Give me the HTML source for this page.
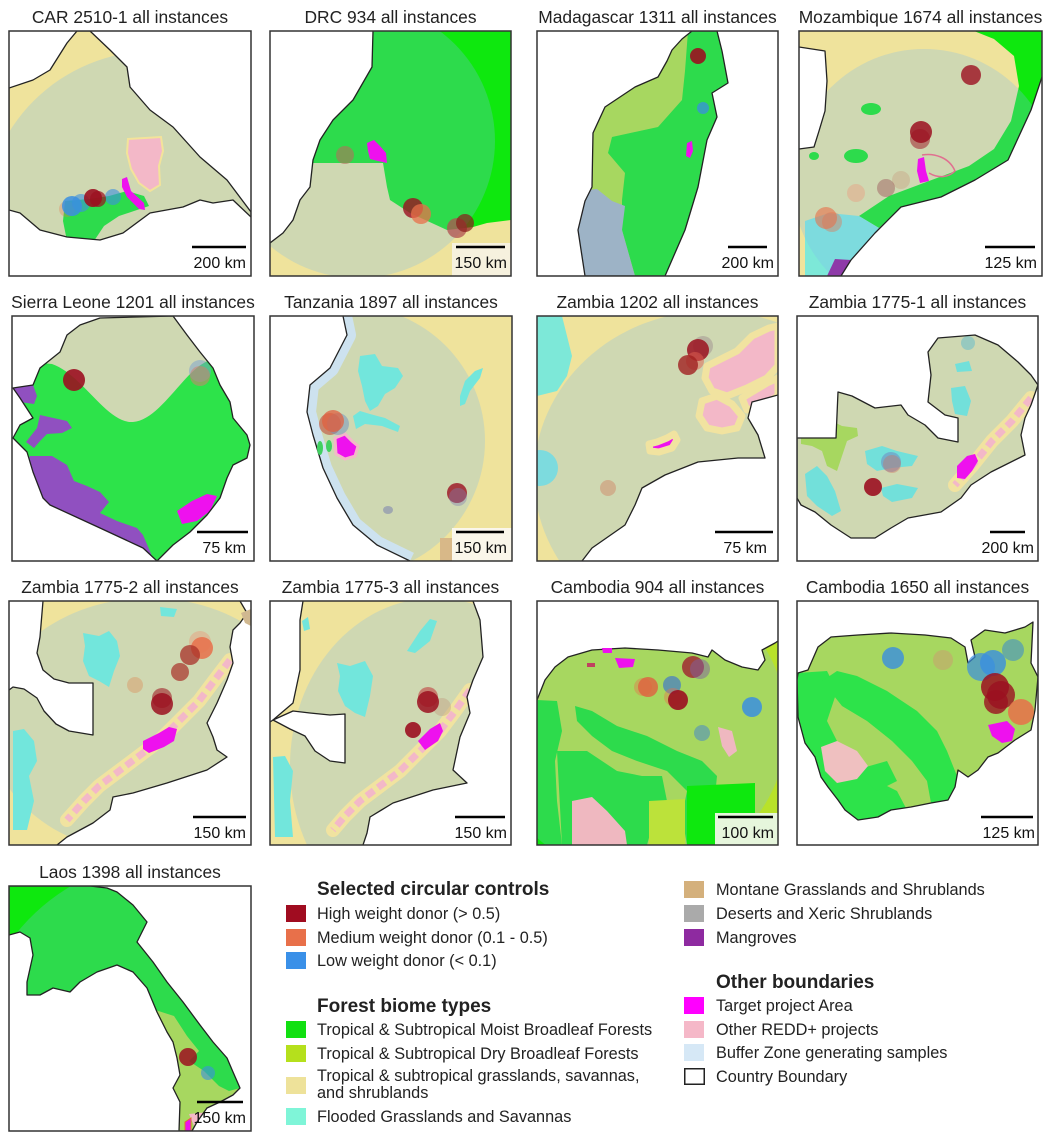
<!DOCTYPE html>
<html><head><meta charset="utf-8">
<style>
html,body{margin:0;padding:0;background:#fff;width:1055px;height:1140px;overflow:hidden}
svg{display:block}
text{font-family:"Liberation Sans",Arial,sans-serif;fill:#222}
.t{font-size:17.4px;text-anchor:middle}
.s{font-size:16px;text-anchor:end;fill:#111}
.ov{fill:#7dbcec;fill-opacity:.28}
.bd{fill:none;stroke:#222;stroke-width:1.3;stroke-linejoin:round}
.box{fill:none;stroke:#333;stroke-width:1.5}
.sb{stroke:#000;stroke-width:2.5}
.lg{font-size:16.3px}
.lh{font-size:19px;font-weight:bold}
.ys{fill:none;stroke:#f1e3a0;stroke-width:14;stroke-linecap:round;stroke-linejoin:round}
.ps{fill:none;stroke:#f3b8c8;stroke-width:7;stroke-dasharray:9 5;stroke-linejoin:round}
</style></head><body>
<svg width="1055" height="1140" viewBox="0 0 1055 1140">
<defs>
<clipPath id="c1"><rect width="242" height="245"/></clipPath>
<clipPath id="c2"><rect width="241" height="245"/></clipPath>
<clipPath id="c3"><rect width="241" height="245"/></clipPath>
<clipPath id="c4"><rect width="243" height="245"/></clipPath>
<clipPath id="c5"><rect width="242" height="245"/></clipPath>
<clipPath id="c6"><rect width="242" height="245"/></clipPath>
<clipPath id="c7"><rect width="241" height="245"/></clipPath>
<clipPath id="c8"><rect width="241" height="245"/></clipPath>
<clipPath id="c9"><rect width="242" height="244"/></clipPath>
<clipPath id="c10"><rect width="241" height="244"/></clipPath>
<clipPath id="c11"><rect width="241" height="244"/></clipPath>
<clipPath id="c12"><rect width="241" height="244"/></clipPath>
<clipPath id="c13"><rect width="242" height="245"/></clipPath>
</defs>

<!-- Titles -->
<text class="t" x="130" y="23">CAR 2510-1 all instances</text>
<text class="t" x="390.5" y="23">DRC 934 all instances</text>
<text class="t" x="657.5" y="23">Madagascar 1311 all instances</text>
<text class="t" x="920.5" y="23">Mozambique 1674 all instances</text>
<text class="t" x="133" y="308">Sierra Leone 1201 all instances</text>
<text class="t" x="391" y="308">Tanzania 1897 all instances</text>
<text class="t" x="657.5" y="308">Zambia 1202 all instances</text>
<text class="t" x="917.5" y="308">Zambia 1775-1 all instances</text>
<text class="t" x="130" y="593">Zambia 1775-2 all instances</text>
<text class="t" x="390.5" y="593">Zambia 1775-3 all instances</text>
<text class="t" x="657.5" y="593">Cambodia 904 all instances</text>
<text class="t" x="917.5" y="593">Cambodia 1650 all instances</text>
<text class="t" x="130" y="878">Laos 1398 all instances</text>

<!-- P1 CAR -->
<g transform="translate(9,31)">
<g clip-path="url(#c1)">
<clipPath id="k1"><polygon points="0,57 24,49 41,39 58,12 68,0 81,0 101,19 118,36 121,56 141,79 164,96 191,126 218,149 242,181 242,186 224,169 204,172 191,169 174,176 141,182 114,202 91,209 58,206 31,199 11,182 0,179"/></clipPath>
<g clip-path="url(#k1)">
<rect width="242" height="245" fill="#efe39c"/>
<polygon fill="#0ee80e" points="56,170 80,168 100,165 118,160 135,165 140,175 125,180 110,185 95,195 85,210 58,210 54,190"/>
<circle class="ov" cx="145" cy="190" r="170"/>
</g>
<polygon class="bd" points="0,57 24,49 41,39 58,12 68,0 81,0 101,19 118,36 121,56 141,79 164,96 191,126 218,149 242,181 242,186 224,169 204,172 191,169 174,176 141,182 114,202 91,209 58,206 31,199 11,182 0,179"/>
<polygon fill="#f3b8c8" stroke="#f3e39a" stroke-width="2" points="119,108 152,106 154,120 150,135 151,154 141,160 130,152 122,138 118,122"/>
<polygon fill="#ee11ee" points="113,148 118,146 122,160 135,172 136,179 130,178 118,166 113,156"/>
<circle cx="58" cy="178" r="8" fill="#e8704a" fill-opacity=".3"/>
<circle cx="63" cy="175" r="10" fill="#3a8fe0" fill-opacity=".85"/>
<circle cx="72" cy="172" r="9" fill="#3a8fe0" fill-opacity=".6"/>
<circle cx="104" cy="166" r="8" fill="#3a8fe0" fill-opacity=".6"/>
<circle cx="84" cy="167" r="9" fill="#9b1020" fill-opacity=".9"/>
<circle cx="89" cy="168" r="8" fill="#9b1020" fill-opacity=".7"/>
<line class="sb" x1="183" y1="216" x2="237" y2="216"/>
<text class="s" x="237" y="237">200 km</text>
</g>
<rect class="box" width="242" height="245"/>
</g>

<!-- P2 DRC -->
<g transform="translate(270,31)">
<g clip-path="url(#c2)">
<clipPath id="k2"><polygon points="103,0 241,0 241,245 0,245 0,212 13,202 23,189 30,169 40,156 43,129 50,109 63,89 83,69 102,36"/></clipPath>
<g clip-path="url(#k2)">
<rect width="241" height="245" fill="#0ee80e"/>
<polygon fill="#efe39c" points="43,132 113,132 117,156 120,169 140,182 177,199 203,196 217,192 241,189 241,245 0,245 0,212 13,202 23,189 30,169 40,156"/>
<circle class="ov" cx="88" cy="110" r="137"/>
</g>
<polyline class="bd" points="103,0 102,36 83,69 63,89 50,109 43,129 40,156 30,169 23,189 13,202 0,212"/>
<polygon fill="#ee11ee" points="97,112 104,109 110,115 116,122 117,132 108,130 100,128 98,120"/>
<circle cx="75" cy="124" r="9" fill="#b0705a" fill-opacity=".6"/>
<circle cx="143" cy="177" r="10" fill="#9b1020" fill-opacity=".8"/>
<circle cx="151" cy="183" r="10" fill="#e8704a" fill-opacity=".75"/>
<circle cx="187" cy="197" r="10" fill="#b05050" fill-opacity=".75"/>
<circle cx="195" cy="192" r="9" fill="#8b1a1a" fill-opacity=".7"/>
<rect x="182" y="212" width="59" height="33" fill="#f6f1de"/>
<line class="sb" x1="186" y1="216" x2="235" y2="216"/>
<text class="s" x="237" y="237">150 km</text>
</g>
<rect class="box" width="241" height="245"/>
</g>

<!-- P3 Madagascar -->
<g transform="translate(537,31)">
<g clip-path="url(#c3)">
<clipPath id="k3"><polygon points="155,0 180,0 185,20 191,52 175,62 180,86 170,109 161,156 148,199 128,245 48,245 41,199 48,170 55,156 56,102 68,76 98,56 121,46 130,30 135,19 145,8"/></clipPath>
<g clip-path="url(#k3)">
<rect width="241" height="245" fill="#b8e22a"/>
<polygon fill="#0ee80e" points="151,0 185,0 191,52 175,62 180,86 170,109 161,156 148,199 128,245 98,245 85,199 85,169 88,142 71,122 75,106 121,96 145,69 148,40"/>
<polygon fill="#aab0b8" points="41,160 60,158 75,170 88,175 85,199 98,245 41,245"/>
<rect width="241" height="245" class="ov"/>
<polygon fill="#9050c0" points="40,175 46,170 46,182 40,186"/>
</g>
<polygon class="bd" points="155,0 180,0 185,20 191,52 175,62 180,86 170,109 161,156 148,199 128,245 48,245 41,199 48,170 55,156 56,102 68,76 98,56 121,46 130,30 135,19 145,8"/>
<polygon fill="#ee11ee" points="150,112 155,110 156,120 153,127 149,125"/>
<circle cx="161" cy="25" r="8" fill="#9b1020" fill-opacity=".9"/>
<circle cx="166" cy="77" r="6" fill="#3a8fe0" fill-opacity=".75"/>
<line class="sb" x1="191" y1="216" x2="230" y2="216"/>
<text class="s" x="237" y="237">200 km</text>
</g>
<rect class="box" width="241" height="245"/>
</g>

<!-- P4 Mozambique -->
<g transform="translate(799,31)">
<g clip-path="url(#c4)">
<rect width="243" height="245" fill="#efe39c"/>
<polygon fill="#0ee80e" points="175,0 243,0 243,46 232,79 209,129 176,149 142,166 102,176 80,197 60,185 90,165 130,150 170,135 195,118 212,90 220,55 215,25 195,8"/>
<polygon fill="#7de8d8" points="6,190 30,182 60,185 80,197 76,202 52,229 42,245 6,245"/>
<ellipse fill="#0ee80e" cx="72" cy="78" rx="10" ry="6"/>
<ellipse fill="#0ee80e" cx="57" cy="125" rx="12" ry="7"/>
<ellipse fill="#0ee80e" cx="15" cy="125" rx="5" ry="4"/>
<circle class="ov" cx="125" cy="150" r="132"/>
<polygon fill="#8e3aa8" points="36,228 52,229 42,245 28,245"/>
<polygon fill="#fff" points="243,46 232,79 209,129 176,149 142,166 102,176 76,202 52,229 42,245 243,245"/>
<polygon fill="#fff" points="0,16 26,20 28,50 26,80 20,100 15,116 0,118"/>
<polyline class="bd" points="243,46 232,79 209,129 176,149 142,166 102,176 76,202 52,229 42,245"/>
<polyline class="bd" points="0,16 26,20 28,50 26,80 20,100 15,116 0,118"/>
<path d="M123,124 C135,122 150,126 156,140 C150,146 140,148 130,142" fill="none" stroke="#e07090" stroke-width="1.5"/>
<polygon fill="#ee11ee" points="119,128 125,126 127,140 130,150 121,152 118,140"/>
<circle cx="172" cy="44" r="10" fill="#9b1020" fill-opacity=".8"/>
<circle cx="122" cy="101" r="11" fill="#9b1020" fill-opacity=".85"/>
<circle cx="121" cy="108" r="10" fill="#9b1020" fill-opacity=".5"/>
<circle cx="102" cy="149" r="9" fill="#c8a080" fill-opacity=".4"/>
<circle cx="87" cy="157" r="9" fill="#a06060" fill-opacity=".5"/>
<circle cx="57" cy="162" r="9" fill="#e8a080" fill-opacity=".45"/>
<circle cx="27" cy="187" r="11" fill="#e8704a" fill-opacity=".6"/>
<circle cx="33" cy="191" r="10" fill="#e8704a" fill-opacity=".4"/>
<line class="sb" x1="186" y1="216" x2="236" y2="216"/>
<text class="s" x="238" y="237">125 km</text>
</g>
<rect class="box" width="243" height="245"/>
</g>

<!-- P5 Sierra Leone -->
<g transform="translate(12,316)">
<g clip-path="url(#c5)">
<clipPath id="k5"><polygon points="68,9 88,2 161,0 175,19 188,36 201,52 208,69 218,86 221,102 235,119 238,129 235,142 221,149 215,162 208,182 195,199 178,216 161,229 145,245 131,232 88,212 38,189 31,182 21,156 15,136 1,122 8,109 21,102 8,82 1,72 21,69 28,52 48,36 55,19"/></clipPath>
<g clip-path="url(#k5)">
<rect width="242" height="245" fill="#2de34a"/>
<path fill="#cfd8b2" d="M0,0 L242,0 L242,42 L200,44 C175,48 150,104 121,106 C95,108 70,58 40,48 L0,44 Z"/>
<polygon fill="#9050c0" points="0,70 21,69 25,80 22,88 8,86 0,84"/>
<polygon fill="#9050c0" points="28,99 55,105 60,112 50,117 35,118 28,125 22,132 14,126 25,112"/>
<polygon fill="#9050c0" points="18,140 40,140 55,149 62,165 75,170 88,176 97,186 88,197 105,205 125,212 131,219 140,240 131,245 88,215 38,192 20,185 10,160"/>
<polygon fill="#9050c0" points="28,183 65,188 75,200 60,198 40,192"/>
<polygon fill="#ee11ee" points="165,195 180,185 195,178 205,180 198,195 185,205 170,208"/>
</g>
<polygon class="bd" points="68,9 88,2 161,0 175,19 188,36 201,52 208,69 218,86 221,102 235,119 238,129 235,142 221,149 215,162 208,182 195,199 178,216 161,229 145,245 131,232 88,212 38,189 31,182 21,156 15,136 1,122 8,109 21,102 8,82 1,72 21,69 28,52 48,36 55,19"/>
<circle cx="62" cy="64" r="11" fill="#9b1020" fill-opacity=".9"/>
<circle cx="188" cy="55" r="11" fill="#7aa0d0" fill-opacity=".5"/>
<circle cx="188" cy="60" r="10" fill="#d08070" fill-opacity=".55"/>
<line class="sb" x1="185" y1="216" x2="236" y2="216"/>
<text class="s" x="234" y="237">75 km</text>
</g>
<rect class="box" width="242" height="245"/>
</g>

<!-- P6 Tanzania -->
<g transform="translate(270,316)">
<g clip-path="url(#c6)">
<rect width="242" height="245" fill="#efe39c"/>
<circle class="ov" cx="80" cy="125" r="135"/>
<rect x="170" y="222" width="12" height="23" fill="#d8b888"/>
<polyline fill="none" stroke="#cde2ef" stroke-width="18" stroke-linejoin="round" points="73,0 77,19 60,52 40,69 37,96 43,119 53,152 67,182 83,209 107,229 140,245"/>
<polygon fill="#fff" points="0,0 73,0 77,19 60,52 40,69 37,96 43,119 53,152 67,182 83,209 107,229 140,245 0,245"/>
<polyline class="bd" points="73,0 77,19 60,52 40,69 37,96 43,119 53,152 67,182 83,209 107,229 140,245"/>
<polygon fill="#72e6dc" points="90,40 105,38 112,50 128,52 133,60 125,72 115,78 108,90 100,95 95,85 92,70 88,55"/>
<polygon fill="#72e6dc" points="83,100 90,95 100,98 115,102 130,110 128,116 112,110 95,108 86,113"/>
<polygon fill="#72e6dc" points="190,80 195,65 205,55 213,52 210,62 200,75 195,88 190,90"/>
<ellipse cx="50" cy="132" rx="3" ry="7" fill="#40d060"/>
<ellipse cx="59" cy="130" rx="3" ry="6" fill="#40d060"/>
<polygon fill="#ee11ee" stroke="#f3b8c8" stroke-width="3" points="65,122 75,118 82,125 88,130 85,140 75,143 66,138"/>
<ellipse cx="118" cy="194" rx="5" ry="4" fill="#a0a8b0"/>
<circle cx="60" cy="108" r="11" fill="#c04030" fill-opacity=".55"/>
<circle cx="68" cy="108" r="11" fill="#7090c0" fill-opacity=".5"/>
<circle cx="63" cy="105" r="11" fill="#e06040" fill-opacity=".75"/>
<circle cx="187" cy="177" r="10" fill="#9b1020" fill-opacity=".8"/>
<circle cx="188" cy="181" r="9" fill="#8080b0" fill-opacity=".4"/>
<rect x="182" y="212" width="60" height="33" fill="#faf6ea"/>
<line class="sb" x1="186" y1="216" x2="234" y2="216"/>
<text class="s" x="237" y="237">150 km</text>
</g>
<rect class="box" width="242" height="245"/>
</g>

<!-- P7 Zambia 1202 -->
<g transform="translate(537,316)">
<g clip-path="url(#c7)">
<rect width="241" height="245" fill="#efe39c"/>
<polygon fill="#7de8d8" points="0,0 25,0 30,20 35,40 30,60 20,75 0,80"/>
<ellipse cx="3" cy="152" rx="18" ry="18" fill="#7de8d8"/>
<ellipse class="ov" cx="175" cy="160" rx="178" ry="165"/>
<polygon fill="#f3b8c8" stroke="#f1e3a0" stroke-width="7" stroke-linejoin="round" points="170,50 200,35 215,20 232,12 241,10 241,50 230,62 210,72 190,80 175,75 168,62"/>
<polygon fill="#f3b8c8" stroke="#f1e3a0" stroke-width="7" stroke-linejoin="round" points="165,85 180,80 195,88 205,100 200,112 185,115 170,112 162,100"/>
<polygon fill="#f3b8c8" stroke="#f1e3a0" stroke-width="7" stroke-linejoin="round" points="205,82 230,67 241,62 241,80 225,90 210,94"/>
<polygon fill="#ee11ee" stroke="#f1e3a0" stroke-width="7" stroke-linejoin="round" points="112,128 120,126 130,122 137,118 140,124 135,132 122,136 113,135"/>
<polygon fill="#fff" points="241,79 215,86 211,102 221,119 228,142 201,142 161,146 128,159 105,172 98,189 88,209 55,232 45,245 241,245"/>
<polyline class="bd" points="241,79 215,86 211,102 221,119 228,142 201,142 161,146 128,159 105,172 98,189 88,209 55,232 45,245"/>
<circle cx="166" cy="30" r="10" fill="#a09090" fill-opacity=".5"/>
<circle cx="161" cy="34" r="11" fill="#9b1020" fill-opacity=".85"/>
<circle cx="158" cy="45" r="9" fill="#e06050" fill-opacity=".5"/>
<circle cx="151" cy="49" r="10" fill="#a02020" fill-opacity=".8"/>
<circle cx="71" cy="172" r="8" fill="#d09070" fill-opacity=".55"/>
<line class="sb" x1="178" y1="216" x2="236" y2="216"/>
<text class="s" x="230" y="237">75 km</text>
</g>
<rect class="box" width="241" height="245"/>
</g>

<!-- P8 Zambia 1775-1 -->
<g transform="translate(797,316)">
<g clip-path="url(#c8)">
<clipPath id="k8"><polygon points="0,122 39,122 41,76 55,80 78,92 104,89 111,99 128,109 141,122 161,126 161,102 148,99 131,86 134,59 131,36 141,22 178,19 201,29 221,46 234,59 241,69 234,89 228,102 224,119 228,139 194,156 174,169 164,182 144,196 111,202 94,212 78,222 54,222 34,209 18,196 4,189 0,182"/></clipPath>
<g clip-path="url(#k8)">
<rect width="241" height="245" fill="#cfd8b2"/>
<polygon fill="#a7d760" points="4,112 20,108 35,105 45,110 60,112 61,120 50,125 45,140 40,155 30,150 25,135 15,130 4,128"/>
<polygon fill="#72e0da" points="8,158 20,150 30,160 38,175 44,195 35,200 20,190 10,180"/>
<polygon fill="#72e0da" points="68,135 85,130 100,135 121,140 115,150 95,152 80,155 70,148"/>
<polygon fill="#72e0da" points="84,172 100,168 121,172 115,182 95,186 86,180"/>
<polygon fill="#72e0da" points="154,72 168,70 174,85 170,100 158,98 155,85"/>
<polygon fill="#72e0da" points="158,48 172,45 175,55 160,56"/>
<circle cx="171" cy="27" r="7" fill="#72c0c8" fill-opacity=".6"/>
<polyline class="ys" stroke-width="10" points="234,82 215,105 195,125 175,150 158,169"/>
<polyline class="ps" stroke-width="5" points="234,82 215,105 195,125 175,150 158,169"/>
<polygon fill="#ee11ee" points="160,150 170,140 178,138 181,145 175,155 168,163 160,162"/>
</g>
<polygon class="bd" points="0,122 39,122 41,76 55,80 78,92 104,89 111,99 128,109 141,122 161,126 161,102 148,99 131,86 134,59 131,36 141,22 178,19 201,29 221,46 234,59 241,69 234,89 228,102 224,119 228,139 194,156 174,169 164,182 144,196 111,202 94,212 78,222 54,222 34,209 18,196 4,189 0,182"/>
<circle cx="76" cy="171" r="9" fill="#9b1020" fill-opacity=".9"/>
<circle cx="94" cy="146" r="10" fill="#7080c0" fill-opacity=".5"/>
<circle cx="95" cy="148" r="9" fill="#d07060" fill-opacity=".4"/>
<line class="sb" x1="193" y1="216" x2="228" y2="216"/>
<text class="s" x="237" y="237">200 km</text>
</g>
<rect class="box" width="241" height="245"/>
</g>

<!-- P9 Zambia 1775-2 -->
<g transform="translate(9,601)">
<g clip-path="url(#c9)">
<rect width="242" height="244" fill="#efe39c"/>
<ellipse class="ov" cx="140" cy="125" rx="160" ry="128"/>
<polygon fill="#72e6dc" points="74,32 90,35 100,30 108,40 111,55 105,70 100,86 90,80 80,75 74,60 76,45"/>
<polygon fill="#72e6dc" points="151,6 168,8 165,16 152,15"/>
<polygon fill="#72e6dc" points="4,130 15,128 25,140 28,160 20,175 25,200 18,229 4,229"/>
<polyline class="ys" points="221,59 205,80 190,100 170,120 150,140 130,155 110,170 90,185 75,200 58,219"/>
<polyline class="ps" points="221,59 205,80 190,100 170,120 150,140 130,155 110,170 90,185 75,200 58,219"/>
<polygon fill="#ee11ee" points="134,140 150,132 160,126 168,128 165,140 155,146 140,152 134,148"/>
<polygon fill="#fff" points="0,0 34,0 31,36 28,52 34,69 45,78 60,82 74,82 84,82 84,134 60,130 47,123 35,110 28,97 15,88 4,86 0,89"/>
<polyline class="bd" points="34,0 31,36 28,52 34,69 45,78 60,82 74,82 84,82 84,134 60,130 47,123 35,110 28,97 15,88 4,86 0,89"/>
<polygon fill="#fff" points="231,0 242,0 242,244 48,244 58,236 84,222 101,209 104,196 124,192 158,182 198,169 218,156 208,149 204,136 198,122 208,102 218,79 224,62 221,46 224,29 231,22 238,12"/>
<polyline class="bd" points="231,0 238,12 231,22 224,29 221,46 224,62 218,79 208,102 198,122 204,136 208,149 218,156 198,169 158,182 124,192 104,196 101,209 84,222 58,236 48,244"/>
<polygon fill="#d0b890" points="232,12 242,8 242,25 236,22"/>
<circle cx="191" cy="41" r="11" fill="#e8a080" fill-opacity=".5"/>
<circle cx="193" cy="47" r="11" fill="#e8704a" fill-opacity=".85"/>
<circle cx="181" cy="54" r="10" fill="#a83028" fill-opacity=".75"/>
<circle cx="171" cy="71" r="9" fill="#a83028" fill-opacity=".7"/>
<circle cx="126" cy="84" r="8" fill="#d8a070" fill-opacity=".55"/>
<circle cx="153" cy="97" r="10" fill="#a02028" fill-opacity=".6"/>
<circle cx="153" cy="103" r="11" fill="#9b1020" fill-opacity=".85"/>
<line class="sb" x1="184" y1="216" x2="237" y2="216"/>
<text class="s" x="237" y="237">150 km</text>
</g>
<rect class="box" width="242" height="244"/>
</g>

<!-- P10 Zambia 1775-3 -->
<g transform="translate(270,601)">
<g clip-path="url(#c10)">
<rect width="241" height="244" fill="#efe39c"/>
<ellipse class="ov" cx="165" cy="165" rx="145" ry="168"/>
<polygon fill="#72e6dc" points="67,62 80,65 95,60 103,75 100,95 95,116 85,112 75,105 68,90 70,75"/>
<polygon fill="#72e6dc" points="137,50 150,30 160,18 167,20 160,40 145,52"/>
<polygon fill="#72e6dc" points="3,156 15,155 23,170 20,200 23,236 5,236"/>
<polygon fill="#72e6dc" points="32,20 38,16 40,28 34,30"/>
<polyline class="ys" points="200,89 185,110 170,130 150,150 130,170 110,185 90,200 75,215 63,229"/>
<polyline class="ps" points="200,89 185,110 170,130 150,150 130,170 110,185 90,200 75,215 63,229"/>
<polygon fill="#ee11ee" points="148,140 160,128 170,122 173,130 168,140 155,149"/>
<polygon fill="#fff" points="0,0 33,0 30,19 30,69 23,102 3,119 0,121"/>
<polyline class="bd" points="33,0 30,19 30,69 23,102 3,119 0,121"/>
<polygon fill="#fff" points="3,119 23,110 40,112 60,114 75,113 75,162 60,160 45,150 35,135 20,128"/>
<polygon class="bd" points="3,119 23,110 40,112 60,114 75,113 75,162 60,160 45,150 35,135 20,128"/>
<polygon fill="#fff" points="203,0 241,0 241,244 93,244 97,232 100,216 123,202 163,189 197,182 183,169 190,136 200,112 197,96 203,79 213,56 210,19"/>
<polyline class="bd" points="203,0 210,19 213,56 203,79 197,96 200,112 190,136 183,169 197,182 163,189 123,202 100,216 97,232 93,244"/>
<circle cx="172" cy="106" r="9" fill="#c0a080" fill-opacity=".45"/>
<circle cx="158" cy="96" r="10" fill="#c04040" fill-opacity=".6"/>
<circle cx="158" cy="101" r="11" fill="#9b1020" fill-opacity=".85"/>
<circle cx="143" cy="129" r="8" fill="#9b1020" fill-opacity=".9"/>
<line class="sb" x1="185" y1="216" x2="235" y2="216"/>
<text class="s" x="237" y="237">150 km</text>
</g>
<rect class="box" width="241" height="244"/>
</g>

<!-- P11 Cambodia 904 -->
<g transform="translate(537,601)">
<g clip-path="url(#c11)">
<rect width="241" height="244" fill="#b8e22a"/>
<polygon fill="#0ee80e" points="0,99 20,100 25,130 18,160 20,200 25,244 0,244"/>
<polygon fill="#0ee80e" points="38,105 55,110 80,125 110,135 140,150 165,160 180,175 178,195 170,215 168,244 150,244 145,215 150,190 130,170 100,160 75,150 55,135 40,120"/>
<polygon fill="#0ee80e" points="20,150 50,150 80,170 105,175 125,175 130,200 118,215 110,244 25,244"/>
<circle class="ov" cx="100" cy="125" r="150"/>
<polygon fill="#0ee80e" points="150,185 218,182 218,244 150,244"/>
<polygon fill="#bce23a" points="112,200 148,198 148,244 112,244"/>
<polygon fill="#efb8c0" points="35,200 55,196 70,210 88,230 90,244 35,244"/>
<polygon fill="#efb8c0" points="181,126 195,130 200,150 192,156 185,145"/>
<polygon fill="#fff" points="0,0 241,0 241,40 238,42 225,49 228,59 221,69 205,66 188,59 175,49 171,56 155,52 121,49 88,47 55,49 31,56 18,66 8,79 0,99"/>
<polyline class="bd" points="241,40 238,42 225,49 228,59 221,69 205,66 188,59 175,49 171,56 155,52 121,49 88,47 55,49 31,56 18,66 8,79 0,99"/>
<polygon fill="#ee11ee" points="78,57 98,58 96,66 82,67"/>
<polygon fill="#ee11ee" points="65,47 75,47 75,52 66,52"/>
<polygon fill="#c04060" points="50,62 58,62 58,66 50,66"/>
<circle cx="106" cy="86" r="9" fill="#e8704a" fill-opacity=".4"/>
<circle cx="111" cy="86" r="10" fill="#e06040" fill-opacity=".8"/>
<circle cx="135" cy="84" r="9" fill="#4a80c0" fill-opacity=".75"/>
<circle cx="136" cy="96" r="9" fill="#e8704a" fill-opacity=".4"/>
<circle cx="141" cy="99" r="10" fill="#9b1020" fill-opacity=".9"/>
<circle cx="156" cy="66" r="11" fill="#a02030" fill-opacity=".8"/>
<circle cx="163" cy="68" r="10" fill="#8060a0" fill-opacity=".5"/>
<circle cx="215" cy="106" r="10" fill="#3a8fe0" fill-opacity=".85"/>
<circle cx="165" cy="132" r="8" fill="#5090c0" fill-opacity=".6"/>
<rect x="178" y="212" width="63" height="32" fill="#e6f6dc"/>
<line class="sb" x1="181" y1="216" x2="236" y2="216"/>
<text class="s" x="237" y="237">100 km</text>
</g>
<rect class="box" width="241" height="244"/>
</g>

<!-- P12 Cambodia 1650 -->
<g transform="translate(797,601)">
<g clip-path="url(#c12)">
<clipPath id="k12"><polygon points="1,72 11,69 21,46 34,36 61,34 94,32 128,34 154,37 168,46 171,62 178,56 174,39 188,29 208,32 228,26 236,21 234,62 241,76 238,109 234,129 218,139 201,152 191,156 181,169 171,176 161,169 158,186 151,199 134,202 114,206 94,209 81,216 61,219 48,209 41,199 31,186 24,176 18,156 8,142 1,116 0,79"/></clipPath>
<g clip-path="url(#k12)">
<rect width="241" height="244" fill="#a7d760"/>
<polygon fill="#2de34a" points="0,72 30,70 40,90 30,120 40,140 60,160 80,180 100,190 110,209 81,216 61,219 48,209 41,199 31,186 24,176 18,156 8,142 1,116"/>
<polygon fill="#2de34a" points="25,80 40,70 60,75 90,90 120,110 140,130 150,150 160,175 158,186 151,199 134,202 130,180 115,160 95,140 70,120 45,105"/>
<polygon fill="#2de34a" points="55,170 90,160 100,180 80,190"/>
<polygon fill="#efc0c0" points="24,146 40,140 60,150 71,165 60,178 40,182 28,170"/>
<polygon fill="#ee11ee" points="191,124 210,120 218,128 215,140 205,142 195,135"/>
</g>
<polygon class="bd" points="1,72 11,69 21,46 34,36 61,34 94,32 128,34 154,37 168,46 171,62 178,56 174,39 188,29 208,32 228,26 236,21 234,62 241,76 238,109 234,129 218,139 201,152 191,156 181,169 171,176 161,169 158,186 151,199 134,202 114,206 94,209 81,216 61,219 48,209 41,199 31,186 24,176 18,156 8,142 1,116 0,79"/>
<circle cx="96" cy="57" r="11" fill="#3a8fe0" fill-opacity=".8"/>
<circle cx="146" cy="59" r="10" fill="#c8a070" fill-opacity=".55"/>
<circle cx="216" cy="49" r="11" fill="#4090c8" fill-opacity=".6"/>
<circle cx="184" cy="66" r="14" fill="#3a8fe0" fill-opacity=".7"/>
<circle cx="196" cy="62" r="13" fill="#3a8fe0" fill-opacity=".8"/>
<circle cx="198" cy="86" r="14" fill="#9b1020" fill-opacity=".85"/>
<circle cx="204" cy="94" r="14" fill="#9b1020" fill-opacity=".8"/>
<circle cx="199" cy="101" r="12" fill="#9b1020" fill-opacity=".8"/>
<circle cx="224" cy="111" r="13" fill="#e8704a" fill-opacity=".85"/>
<line class="sb" x1="184" y1="216" x2="236" y2="216"/>
<text class="s" x="238" y="237">125 km</text>
</g>
<rect class="box" width="241" height="244"/>
</g>

<!-- P13 Laos -->
<g transform="translate(9,886)">
<g clip-path="url(#c13)">
<clipPath id="k13"><polygon points="0,0 81,0 98,2 108,6 124,19 138,36 128,56 144,76 158,96 174,116 191,139 204,156 218,172 224,186 231,202 224,209 211,216 198,222 188,236 183,245 170,245 171,216 164,202 171,189 168,172 164,156 158,146 148,126 138,102 124,86 108,79 88,86 71,96 61,106 44,102 31,109 18,109 18,96 24,69 21,52 11,46 0,49"/></clipPath>
<g clip-path="url(#k13)">
<rect width="242" height="245" fill="#0ee80e"/>
<polygon fill="#b8e22a" points="140,122 165,130 178,150 190,165 180,175 195,185 210,200 220,205 231,202 224,209 211,216 198,222 188,236 183,245 170,245 171,216 164,202 171,189 168,172 164,156 158,146 148,126"/>
<path class="ov" d="M0,57 A203,203 0 0 1 62,0 L242,0 L242,245 L0,245 Z"/>
<polygon fill="#f3b8c8" points="180,228 200,226 205,236 185,240"/>
<polygon fill="#ee11ee" stroke="#e07030" stroke-width="1" points="176,236 182,232 182,245 176,245"/>
</g>
<polygon class="bd" points="0,0 81,0 98,2 108,6 124,19 138,36 128,56 144,76 158,96 174,116 191,139 204,156 218,172 224,186 231,202 224,209 211,216 198,222 188,236 183,245 170,245 171,216 164,202 171,189 168,172 164,156 158,146 148,126 138,102 124,86 108,79 88,86 71,96 61,106 44,102 31,109 18,109 18,96 24,69 21,52 11,46 0,49"/>
<circle cx="179" cy="171" r="9" fill="#9b1020" fill-opacity=".85"/>
<circle cx="199" cy="187" r="7" fill="#3a8fe0" fill-opacity=".6"/>
<line class="sb" x1="188" y1="216" x2="234" y2="216"/>
<text class="s" x="237" y="237">150 km</text>
</g>
<rect class="box" width="242" height="245"/>
</g>

<!-- Legend left -->
<text class="lh" x="317" y="895">Selected circular controls</text>
<rect x="286" y="905" width="20" height="17" fill="#a00c20"/>
<text class="lg" x="317" y="919">High weight donor (&gt; 0.5)</text>
<rect x="286" y="929" width="20" height="17" fill="#e8704a"/>
<text class="lg" x="317" y="943">Medium weight donor (0.1 - 0.5)</text>
<rect x="286" y="952" width="20" height="17" fill="#3a90e8"/>
<text class="lg" x="317" y="966">Low weight donor (&lt; 0.1)</text>
<text class="lh" x="317" y="1012">Forest biome types</text>
<rect x="286" y="1021" width="20" height="17" fill="#11e011"/>
<text class="lg" x="317" y="1035">Tropical &amp; Subtropical Moist Broadleaf Forests</text>
<rect x="286" y="1045" width="20" height="17" fill="#b5e01c"/>
<text class="lg" x="317" y="1059">Tropical &amp; Subtropical Dry Broadleaf Forests</text>
<rect x="286" y="1077" width="20" height="17" fill="#eee29a"/>
<text class="lg" x="317" y="1081">Tropical &amp; subtropical grasslands, savannas,</text>
<text class="lg" x="317" y="1098">and shrublands</text>
<rect x="286" y="1108" width="20" height="17" fill="#7ff5d8"/>
<text class="lg" x="317" y="1122">Flooded Grasslands and Savannas</text>

<!-- Legend right -->
<rect x="684" y="881" width="20" height="17" fill="#d4b07c"/>
<text class="lg" x="716" y="895">Montane Grasslands and Shrublands</text>
<rect x="684" y="905" width="20" height="17" fill="#aaaaaa"/>
<text class="lg" x="716" y="919">Deserts and Xeric Shrublands</text>
<rect x="684" y="929" width="20" height="17" fill="#8e2aa0"/>
<text class="lg" x="716" y="943">Mangroves</text>
<text class="lh" x="716" y="988">Other boundaries</text>
<rect x="684" y="997" width="20" height="17" fill="#ff00ff"/>
<text class="lg" x="716" y="1011">Target project Area</text>
<rect x="684" y="1021" width="20" height="17" fill="#f5b8c8"/>
<text class="lg" x="716" y="1035">Other REDD+ projects</text>
<rect x="684" y="1044" width="20" height="17" fill="#d6e8f6"/>
<text class="lg" x="716" y="1058">Buffer Zone generating samples</text>
<rect x="684.75" y="1068.75" width="19.5" height="15.5" fill="#fff" stroke="#222" stroke-width="1.5"/>
<text class="lg" x="716" y="1082">Country Boundary</text>
</svg>
</body></html>
